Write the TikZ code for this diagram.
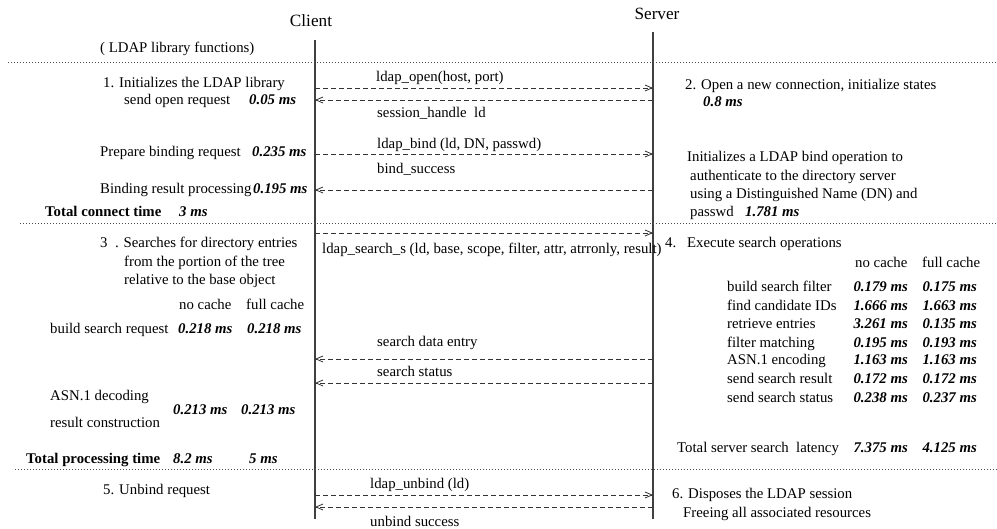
\documentclass[tikz,border=0pt]{standalone}
\usepackage{fontspec}
\setmainfont{Liberation Serif}
\usetikzlibrary{arrows.meta}
\begin{document}
\begin{tikzpicture}[x=1pt,y=-1pt,
  txt/.style={anchor=base west,inner sep=0pt,font=\fontsize{14.8}{17}\selectfont},
  bld/.style={txt,font=\fontsize{14.8}{17}\selectfont\bfseries},
  val/.style={txt,font=\fontsize{14.8}{17}\selectfont\bfseries\itshape},
  valr/.style={val,anchor=base east},
  hdr/.style={anchor=base,inner sep=0pt,font=\fontsize{17.2}{20}\selectfont},
  life/.style={line width=1.3pt,draw=black!75},
  sep/.style={line width=0.6pt,dash pattern=on 0.8pt off 2.2pt,draw=black!70},
  msg/.style={line width=0.9pt,dash pattern=on 5pt off 3pt,draw=black!80,-{Straight Barb[length=7pt,width=6pt,line width=0.8pt]}}
]
\useasboundingbox (0,0) rectangle (997,529);

% headers
\node[hdr] (client) at (311,27) {Client};
\node[hdr] (server) at (657,20) {Server};

% lifelines
\coordinate (ctop) at (315,40);
\coordinate (cbot) at (315,519);
\coordinate (stop) at (653,32);
\coordinate (sbot) at (653,519);
\draw[life] (ctop) -- (cbot);
\draw[life] (stop) -- (sbot);

% separators
\coordinate (d1l) at (8,62);   \coordinate (d1r) at (997,62);
\coordinate (d2l) at (20,223); \coordinate (d2r) at (997,223);
\coordinate (d3l) at (15,469); \coordinate (d3r) at (997,469);
\draw[sep] (d1l) -- (d1r);
\draw[sep] (d2l) -- (d2r);
\draw[sep] (d3l) -- (d3r);

% message anchor points on lifelines
\foreach \n/\yy in {open/88,hand/100,bind/154,bret/190,srch/233,data/359,stat/383,unb/495,uret/507}{
  \coordinate (c\n) at (315,\yy);
  \coordinate (s\n) at (653,\yy);
}
\draw[msg] (copen) -- (sopen);
\draw[msg] (shand) -- (chand);
\draw[msg] (cbind) -- (sbind);
\draw[msg] (sbret) -- (cbret);
\draw[msg] (csrch) -- (ssrch);
\draw[msg] (sdata) -- (cdata);
\draw[msg] (sstat) -- (cstat);
\draw[msg] (cunb) -- (sunb);
\draw[msg] (suret) -- (curet);

% message labels
\node[txt] (mopen) at (376,82) {ldap\_open(host, port)};
\node[txt] (mhand) at (377,118) {session\_handle\ \ ld};
\node[txt] (mbind) at (377,149) {ldap\_bind (ld, DN, passwd)};
\node[txt] (mbret) at (377,174) {bind\_success};
\node[txt] (msrch) at (322,254) {ldap\_search\_s (ld, base, scope, filter, attr, atrronly, result)};
\node[txt] (mdata) at (377,347) {search data entry};
\node[txt] (mstat) at (377,377) {search status};
\node[txt] (munb) at (370,489) {ldap\_unbind (ld)};
\node[txt] (muret) at (370,526) {unbind success};

% client side
\node[txt] (lib) at (100,53) {( LDAP library functions)};
\node[txt] (c1a) at (103,88) {1. Initializes the LDAP library};
\node[txt] (c1b) at (124,105) {send open request};
\node[val] (c1v) at (249,105) {0.05 ms};
\node[txt] (c2a) at (100,157) {Prepare binding request};
\node[val] (c2v) at (252,157) {0.235 ms};
\node[txt] (c3a) at (100,194) {Binding result processing};
\node[val] (c3v) at (253,194) {0.195 ms};
\node[bld] (ctot) at (45,217) {Total connect time};
\node[val] (ctotv) at (179,217) {3 ms};
\node[txt] (c4a) at (100,248) {3\ \ . Searches for directory entries};
\node[txt] (c4b) at (124,267) {from the portion of the tree};
\node[txt] (c4c) at (124,285) {relative to the base object};
\node[txt] (cnc) at (179,310) {no cache};
\node[txt] (cfc) at (246,310) {full cache};
\node[txt] (c5a) at (50,334) {build search request};
\node[val] (c5v) at (178,334) {0.218 ms};
\node[val] (c5w) at (247,334) {0.218 ms};
\node[txt] (c6a) at (50,401) {ASN.1 decoding};
\node[txt] (c6b) at (50,428) {result construction};
\node[val] (c6v) at (173,415) {0.213 ms};
\node[val] (c6w) at (241,415) {0.213 ms};
\node[bld] (cptot) at (26,464) {Total processing time};
\node[val] (cptv) at (173,464) {8.2 ms};
\node[val] (cptw) at (249,464) {5 ms};
\node[txt] (c7a) at (103,494) {5. Unbind request};

% server side
\node[txt] (s2a) at (685,90) {2. Open a new connection, initialize states};
\node[val] (s2v) at (703,107) {0.8 ms};
\node[txt] (sba) at (687,162) {Initializes a LDAP bind operation to};
\node[txt] (sbb) at (690,181) {authenticate to the directory server};
\node[txt] (sbc) at (690,199) {using a Distinguished Name (DN) and};
\node[txt] (sbd) at (690,217) {passwd};
\node[val] (sbv) at (745,217) {1.781 ms};
\node[txt] (s4n) at (665,248) {4.};
\node[txt] (s4a) at (687,248) {Execute search operations};
\node[txt] (snc) at (855,268) {no cache};
\node[txt] (sfc) at (922,268) {full cache};
\foreach \k/\lab/\va/\vb/\yy in {
  r1/build search filter/0.179/0.175/292,
  r2/find candidate IDs/1.666/1.663/311,
  r3/retrieve entries/3.261/0.135/329,
  r4/filter matching/0.195/0.193/348,
  r5/ASN.1 encoding/1.163/1.163/365,
  r6/send search result/0.172/0.172/384,
  r7/send search status/0.238/0.237/403}{
  \node[txt] (s\k) at (727,\yy) {\lab};
  \node[valr] (s\k a) at (908,\yy) {\va\ ms};
  \node[valr] (s\k b) at (977,\yy) {\vb\ ms};
}
\node[txt] (stot) at (677,453) {Total server search\ \ latency};
\node[valr] (stota) at (908,453) {7.375 ms};
\node[valr] (stotb) at (977,453) {4.125 ms};
\node[txt] (s6a) at (672,499) {6. Disposes the LDAP session};
\node[txt] (s6b) at (683,517) {Freeing all associated resources};
\end{tikzpicture}
\end{document}
